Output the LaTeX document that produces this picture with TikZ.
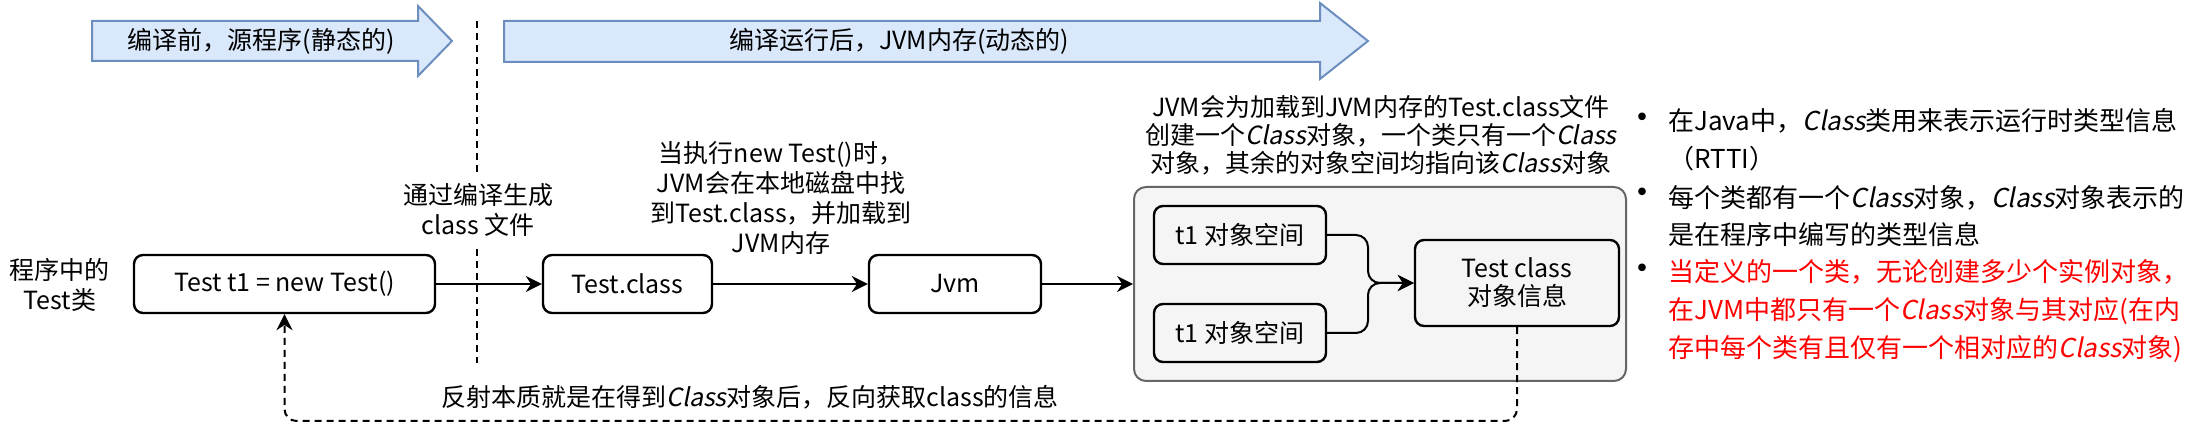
\documentclass[tikz,border=0pt]{standalone}
\usepackage{fontspec}
\setmainfont{Noto Sans CJK SC}
\newfontfamily\slantfont[FakeSlant=0.2]{Noto Sans CJK SC}
\usetikzlibrary{arrows.meta}
\definecolor{stagefill}{HTML}{DAE8FC}
\definecolor{stageline}{HTML}{6C8EBF}
\definecolor{heapfill}{HTML}{F5F5F5}
\definecolor{heapline}{HTML}{666666}
\newcommand{\Cls}{{\slantfont Class}}
\tikzset{
  box/.style={draw,line width=1.2pt,rounded corners=4.5pt,align=center,inner sep=0pt,minimum height=29pt},
  txt/.style={align=center,inner sep=0pt},
  flow/.style={->,line width=1pt},
  dashline/.style={dash pattern=on 3.5pt off 2.5pt},
  itemtxt/.style={txt,align=left,anchor=west,font=\fontsize{13}{18.85}\selectfont},
  dot/.style={txt,font=\fontsize{18}{18}\selectfont},
}
\begin{document}
\begin{tikzpicture}[x=0.5pt,y=-0.5pt,>={Stealth[length=8pt,width=8pt]},font=\fontsize{12.5}{15}\selectfont]
  \useasboundingbox (0,0) rectangle (2202,432);
  % stages
  \draw[stageline,fill=stagefill,line width=1pt] (92,21)--(418,21)--(418,6)--(452,41)--(418,76)--(418,61)--(92,61)--cycle;
  \node[txt] (before) at (261,41) {编译前，源程序(静态的)};
  \draw[stageline,fill=stagefill,line width=1pt] (504,21)--(1320,21)--(1320,3)--(1368,41)--(1320,79)--(1320,62)--(504,62)--cycle;
  \node[txt] (after) at (899,41) {编译运行后，JVM内存(动态的)};
  \draw[dashline,line width=1pt] (477,21)--(477,363);
  \node[txt,fill=white,inner sep=5pt] (compile) at (478,210) {通过编译生成\\class 文件};
  % main flow
  \node[txt] (srclabel) at (60,285) {程序中的\\Test类};
  \node[box,minimum width=150.5pt] (src) at (284.5,284) {Test t1 = new Test()};
  \node[box,minimum width=84.5pt] (cls) at (627.5,284) {Test.class};
  \node[box,minimum width=86pt] (jvm) at (955,284) {Jvm};
  \node[draw=heapline,fill=heapfill,line width=1pt,rounded corners=6pt,minimum width=246pt,minimum height=97pt] (heap) at (1380,284) {};
  \node[box,minimum width=86pt] (t1a) at (1240,235) {t1 对象空间};
  \node[box,minimum width=86pt] (t1b) at (1240,333) {t1 对象空间};
  \node[box,minimum width=102pt,minimum height=43pt,font=\fontsize{12.5}{14}\selectfont] (tcls) at (1517,283) {Test class\\对象信息};
  \coordinate (merge) at (1368,283);
  \coordinate (back) at (284.5,421);
  \draw[flow] (src)--(cls);
  \draw[flow] (cls)--(jvm);
  \draw[flow] (jvm)--(heap);
  \draw[flow,rounded corners=6pt] (t1a.east) -| (merge) -- (tcls.west);
  \draw[flow,rounded corners=6pt] (t1b.east) -| (merge) -- (tcls.west);
  \draw[flow,dashline,rounded corners=6pt] (tcls.south) |- (back) -- (src.south);
  % notes
  \node[txt] (loadnote) at (781,198) {当执行new Test()时，\\ JVM会在本地磁盘中找\\到Test.class，并加载到\\JVM内存};
  \node[txt,font=\fontsize{12.5}{14}\selectfont] (heapnote) at (1381,135) {JVM会为加载到JVM内存的Test.class文件\\创建一个\Cls 对象，一个类只有一个\Cls\\对象，其余的对象空间均指向该\Cls 对象};
  \node[txt] (reflect) at (750,397) {反射本质就是在得到\Cls 对象后，反向获取class的信息};
  % bullets
  \node[dot] (dot1) at (1642,122) {•};
  \node[dot] (dot2) at (1642,197) {•};
  \node[dot] (dot3) at (1642,273) {•};
  \node[itemtxt] (item1) at (1668,140) {在Java中，\Cls 类用来表示运行时类型信息\\（RTTI）};
  \node[itemtxt] (item2) at (1668,216) {每个类都有一个\Cls 对象，\Cls 对象表示的\\是在程序中编写的类型信息};
  \node[itemtxt,text=red] (item3) at (1668,311) {当定义的一个类，无论创建多少个实例对象，\\在JVM中都只有一个\Cls 对象与其对应(在内\\存中每个类有且仅有一个相对应的\Cls 对象)};
\end{tikzpicture}
\end{document}
